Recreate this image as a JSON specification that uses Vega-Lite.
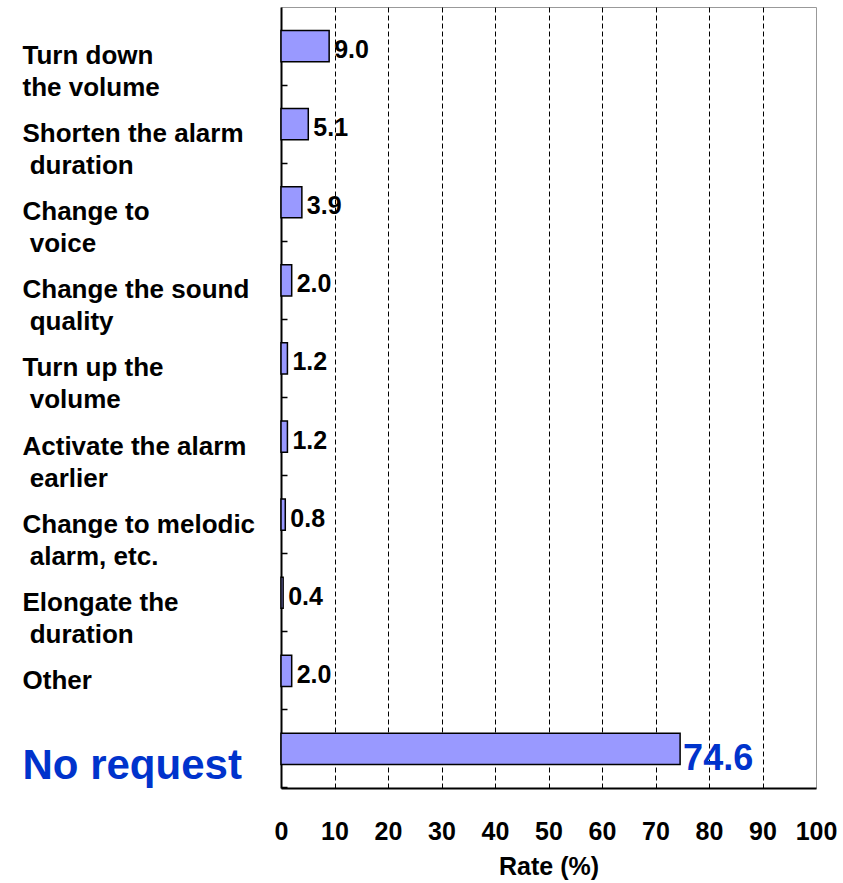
{
  "$schema": "https://vega.github.io/schema/vega-lite/v6.json",
  "width": 535,
  "height": 781,
  "autosize": {"type": "none"},
  "padding": {"left": 281, "top": 7, "right": 27, "bottom": 95},
  "config": {
    "font": "Liberation Sans",
    "view": {"stroke": "#999999", "strokeWidth": 1}
  },
  "data": {
    "values": [
      {"item": "Turn down|the volume", "rate": 9.0},
      {"item": "Shorten the alarm|\u200b duration", "rate": 5.1},
      {"item": "Change to|\u200b voice", "rate": 3.9},
      {"item": "Change the sound|\u200b quality", "rate": 2.0},
      {"item": "Turn up the|\u200b volume", "rate": 1.2},
      {"item": "Activate the alarm|\u200b earlier", "rate": 1.2},
      {"item": "Change to melodic|\u200b alarm, etc.", "rate": 0.8},
      {"item": "Elongate the|\u200b duration", "rate": 0.4},
      {"item": "Other", "rate": 2.0},
      {"item": "No request", "rate": 74.6}
    ]
  },
  "resolve": {"axis": {"y": "independent"}},
  "layer": [
    {
      "mark": {"type": "bar", "fill": "#9999FF", "stroke": "black", "strokeWidth": 1.5},
      "encoding": {
        "y": {
          "field": "item",
          "type": "nominal",
          "sort": null,
          "scale": {"paddingInner": 0.6, "paddingOuter": 0.3},
          "axis": {
            "orient": "left",
            "title": null,
            "domainColor": "black",
            "domainWidth": 2,
            "ticks": false,
            "labelExpr": "split(datum.label, '|')",
            "labelAlign": "left",
            "labelBaseline": "top",
            "labelPadding": 259,
            "labelOffset": -3,
            "labelLimit": 0,
            "labelLineHeight": 32,
            "labelFontWeight": "bold",
            "labelFontSize": {"condition": {"test": "datum.value === 'No request'", "value": 42}, "value": 26},
            "labelColor": {"condition": {"test": "datum.value === 'No request'", "value": "#0033CC"}, "value": "black"}
          }
        },
        "x": {
          "field": "rate",
          "type": "quantitative",
          "scale": {"domain": [0, 100]},
          "axis": {
            "title": "Rate (%)",
            "titleFontSize": 25,
            "titleFontWeight": "bold",
            "titleColor": "black",
            "titlePadding": 10,
            "values": [0, 10, 20, 30, 40, 50, 60, 70, 80, 90, 100],
            "labelOverlap": false,
            "labelFlush": false,
            "domainColor": "black",
            "domainWidth": 2,
            "ticks": false,
            "labelPadding": 31,
            "labelFontSize": 25,
            "labelFontWeight": "bold",
            "labelColor": "black",
            "grid": true,
            "gridColor": {"condition": {"test": "datum.value === 0 || datum.value === 100", "value": "transparent"}, "value": "black"},
            "gridDash": [5, 3],
            "gridWidth": 1,
            "gridOpacity": 1
          }
        }
      }
    },
    {
      "transform": [{"filter": "datum.item !== 'No request'"}],
      "mark": {"type": "text", "align": "left", "baseline": "middle", "dx": 5, "dy": 4, "fontSize": 25, "fontWeight": "bold", "color": "black"},
      "encoding": {
        "y": {
          "field": "item",
          "type": "nominal",
          "sort": null,
          "axis": {
            "orient": "left",
            "offset": -6,
            "title": null,
            "domain": false,
            "labels": false,
            "grid": false,
            "ticks": true,
            "tickSize": 6,
            "bandPosition": 1.75,
            "tickColor": "black",
            "tickWidth": 1.5,
            "tickOpacity": 1,
            "zindex": 1
          }
        },
        "x": {"field": "rate", "type": "quantitative"},
        "text": {"field": "rate", "type": "quantitative", "format": ".1f"}
      }
    },
    {
      "transform": [{"filter": "datum.item === 'No request'"}],
      "mark": {"type": "text", "align": "left", "baseline": "middle", "dx": 3, "dy": 10, "fontSize": 36, "fontWeight": "bold", "color": "#0033CC"},
      "encoding": {
        "y": {"field": "item", "type": "nominal", "sort": null, "axis": null},
        "x": {"field": "rate", "type": "quantitative"},
        "text": {"field": "rate", "type": "quantitative", "format": ".1f"}
      }
    }
  ]
}
